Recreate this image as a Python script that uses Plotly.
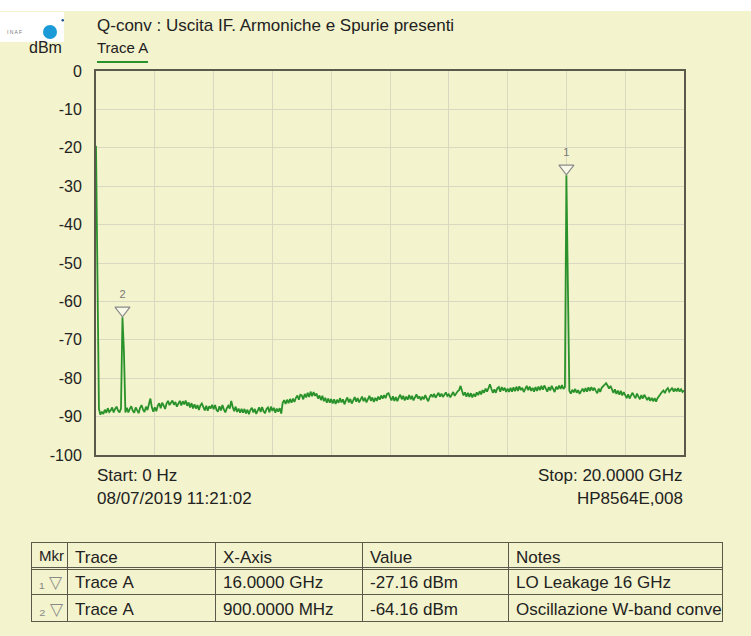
import numpy as np
import plotly.graph_objects as go

# ---------------- data ----------------
start_ghz = 0.0
stop_ghz = 20.0
n_points = 401
sweep_ghz = np.linspace(start_ghz, stop_ghz, n_points)

level_dbm = [
    -19.5, -53.0, -88.0, -89.5, -88.7, -89.3, -88.2, -89.0, -87.8, -88.8, -88.4, -87.6, -88.9, -88.0, -87.4, -88.4, -88.9, -87.9, -64.16, -73.0,
    -88.9, -87.7, -88.9, -88.0, -87.3, -88.5, -89.0, -87.6, -88.4, -89.1, -87.7, -87.0, -88.2, -88.8, -87.4, -88.3, -86.8, -85.3, -87.6, -88.7,
    -87.6, -88.6, -87.2, -86.5, -87.8, -86.4, -87.1, -88.0, -86.6, -85.9, -87.0, -86.3, -85.8, -86.9, -86.2, -87.4, -86.5, -85.9, -87.1, -86.0,
    -86.8, -85.8, -87.2, -86.3, -87.6, -86.5, -87.9, -86.8, -87.9, -87.0, -88.3, -87.1, -86.6, -87.8, -88.4, -87.2, -88.5, -87.3, -87.9, -86.9,
    -88.1, -87.0, -88.3, -88.7, -87.3, -88.4, -87.0, -88.1, -88.9, -87.8, -87.2, -87.9, -85.9, -87.5, -88.6, -87.4, -88.8, -87.9, -89.0, -88.0,
    -89.0, -88.0, -89.2, -88.2, -89.4, -88.3, -87.7, -88.9, -88.0, -89.3, -88.2, -87.6, -88.8, -87.5, -88.6, -89.1, -88.0, -87.6, -88.9, -87.4,
    -88.5, -87.7, -89.0, -87.9, -88.7, -87.8, -89.2, -86.4, -85.7, -86.7, -85.6, -86.5, -85.4, -86.4, -85.3, -86.2, -85.1, -84.5, -85.6, -84.3,
    -84.5, -85.5, -84.1, -85.0, -83.8, -84.9, -83.5, -84.7, -83.6, -84.6, -84.0, -85.3, -84.5, -85.7, -84.6, -86.0, -85.1, -86.4, -85.3, -86.4,
    -85.4, -86.6, -85.5, -86.7, -85.6, -86.4, -85.2, -86.3, -85.5, -86.8, -85.8, -85.0, -86.3, -85.4, -86.6, -85.5, -84.9, -86.1, -85.2, -86.3,
    -85.4, -84.8, -86.0, -85.1, -86.3, -85.2, -84.6, -85.9, -85.0, -86.2, -85.1, -85.9, -84.8, -85.6, -84.5, -85.3, -84.4, -85.2, -84.1, -83.9,
    -85.1, -85.8, -84.7, -85.9, -84.9, -86.0, -85.0, -84.3, -85.5, -84.6, -85.8, -84.8, -85.6, -84.4, -85.5, -84.6, -85.8, -84.9, -84.2, -85.3,
    -84.7, -85.7, -84.8, -85.5, -84.4, -85.3, -86.0, -84.9, -84.2, -84.9, -84.1, -85.1, -84.5, -83.8, -84.8, -84.0, -84.9, -84.2, -83.7, -84.6,
    -84.2, -85.0, -84.3, -83.6, -84.6, -83.9, -83.4, -83.1, -82.0, -83.3, -84.5, -83.7, -84.8, -83.8, -84.9, -83.9, -85.0, -84.1, -84.8, -83.7,
    -84.4, -83.4, -84.2, -83.1, -83.8, -82.7, -83.5, -82.6, -81.6, -82.8, -83.8, -82.9, -83.8, -82.6, -82.3, -83.5, -82.3, -83.2, -82.5, -83.6,
    -82.7, -83.6, -82.5, -83.5, -82.4, -83.4, -82.2, -83.3, -82.1, -83.1, -82.5, -83.6, -82.6, -82.0, -83.1, -82.2, -83.3, -82.5, -83.5, -82.3,
    -83.3, -82.2, -83.1, -82.0, -83.0, -81.9, -82.7, -83.5, -82.3, -83.2, -82.0, -82.9, -83.6, -82.2, -82.9, -81.9, -82.8, -81.8, -82.8, -82.3,
    -27.16, -55.5, -83.3, -84.0, -83.0, -83.7, -82.8, -83.8, -83.1, -84.1, -83.4, -82.7, -83.6, -82.6, -83.5, -82.4, -83.3, -82.3, -83.2, -82.5,
    -83.3, -83.9, -82.7, -83.6, -82.5, -82.1, -81.6, -81.3, -81.9, -82.7, -82.0, -83.1, -83.8, -82.9, -84.1, -83.2, -84.3, -83.3, -84.5, -83.6,
    -84.4, -85.2, -84.2, -85.3, -84.5, -83.8, -84.6, -85.2, -84.0, -84.9, -85.5, -84.4, -85.3, -84.3, -85.1, -85.7, -84.9, -85.9, -85.1, -86.0,
    -85.2, -86.1, -85.2, -84.6, -84.3, -83.6, -83.2, -83.9, -83.0, -82.6, -83.5, -82.8, -82.5, -83.5, -82.7, -83.4, -82.6, -83.5, -82.9, -83.6,
    -83.2,
]

marker_ids = ["1", "2"]
marker_ghz = [16.0, 0.9]
marker_dbm = [-27.16, -64.16]

y_ticks = [0, -10, -20, -30, -40, -50, -60, -70, -80, -90, -100]
y_tick_labels = ["0", "-10", "-20", "-30", "-40", "-50", "-60", "-70", "-80", "-90", "-100"]

table_header = ["Mkr", "Trace", "X-Axis", "Value", "Notes"]
table_mkr = ["₁\u00a0▽", "₂\u00a0▽"]
table_trace = ["Trace A", "Trace A"]
table_xaxis = ["16.0000 GHz", "900.0000 MHz"]
table_value = ["-27.16 dBm", "-64.16 dBm"]
table_notes = ["LO Leakage 16 GHz", "Oscillazione W-band convertita"]

title_text = "Q-conv : Uscita IF. Armoniche e Spurie presenti"
trace_name = "Trace A"
start_text = "Start: 0 Hz"
stop_text = "Stop: 20.0000 GHz"
date_text = "08/07/2019 11:21:02"
instr_text = "HP8564E,008"

# ---------------- style ----------------
W, H = 751, 636
BG = "#f3f3cd"
FONT = "Liberation Sans, Arial, sans-serif"
TXT = "#222222"
GREEN = "#2a922a"
FRAME = "#5a5a4a"
GRID = "#d9d9c2"

# plot area in pixels
px_l, px_r, px_t, px_b = 96, 684, 71, 455
def fx(px):
    return px / W
def fy(py):
    return 1 - py / H

def nowrap(s):
    return s.replace(" ", "\u00a0")

px_per_db = (px_b - px_t) / 100.0
tri_off_db = 7.0 / px_per_db  # lift triangle so its tip sits on the peak

fig = go.Figure()

fig.add_trace(go.Scatter(
    x=sweep_ghz, y=level_dbm, mode="lines",
    line=dict(color=GREEN, width=1.8),
    hoverinfo="skip", showlegend=False,
))

fig.add_trace(go.Scatter(
    x=marker_ghz, y=[v + tri_off_db for v in marker_dbm],
    mode="markers+text", text=marker_ids, textposition="top center",
    textfont=dict(family=FONT, size=11, color="#777777"),
    marker=dict(symbol="triangle-down", size=13, color="rgba(250,250,235,0.9)",
                line=dict(color="#8a8a8a", width=1.2)),
    hoverinfo="skip", showlegend=False,
))

col_px = [36, 148, 147, 146, 214]
cell_cols = [table_mkr, table_trace, table_xaxis, table_value, table_notes]
fig.add_trace(go.Table(
    domain=dict(x=[fx(31), fx(722)], y=[0, fy(542)]),
    columnwidth=col_px,
    header=dict(values=table_header, align="left", height=25,
                fill_color=BG, line=dict(color=FRAME, width=1),
                font=dict(family=FONT, size=[15, 17, 17, 17, 17], color=TXT)),
    cells=dict(values=[[nowrap(v) for v in col] for col in cell_cols],
               align="left", height=27,
               fill_color=BG, line=dict(color=FRAME, width=1),
               font=dict(family=FONT, size=17, color=["#888888", TXT, TXT, TXT, TXT])),
))

shapes = [
    # white strip at top
    dict(type="rect", xref="paper", yref="paper", x0=0, x1=1, y0=fy(11), y1=1,
         fillcolor="white", line=dict(width=0), layer="below"),
    # logo box
    dict(type="rect", xref="paper", yref="paper", x0=0, x1=fx(64), y0=fy(42), y1=fy(12),
         fillcolor="white", line=dict(width=0), layer="below"),
    dict(type="circle", xref="paper", yref="paper", x0=fx(43), x1=fx(57), y0=fy(39), y1=fy(25),
         fillcolor="#1a9ad6", line=dict(width=0)),
    dict(type="circle", xref="paper", yref="paper", x0=fx(61.5), x1=fx(64), y0=fy(21.5), y1=fy(19),
         fillcolor="#1a4f8a", line=dict(width=0)),
    # trace legend underline
    dict(type="line", xref="paper", yref="paper", x0=fx(97), x1=fx(148), y0=fy(62), y1=fy(62),
         line=dict(color=GREEN, width=2)),
    # double line under table header
    dict(type="line", xref="paper", yref="paper", x0=fx(31), x1=fx(722), y0=fy(569.5), y1=fy(569.5),
         line=dict(color=FRAME, width=1)),
]

annotations = [
    dict(text="I N A F", x=fx(5), y=fy(32), xref="paper", yref="paper", xanchor="left", yanchor="middle",
         showarrow=False, font=dict(family=FONT, size=5, color="#777777")),
    dict(text="dBm", x=fx(64), y=fy(47), xref="paper", yref="paper", xanchor="right", yanchor="middle",
         showarrow=False, font=dict(family=FONT, size=16, color=TXT)),
    dict(text=title_text, x=fx(95), y=fy(25), xref="paper", yref="paper", xanchor="left", yanchor="middle",
         showarrow=False, font=dict(family=FONT, size=17, color=TXT)),
    dict(text=trace_name, x=fx(95), y=fy(47), xref="paper", yref="paper", xanchor="left", yanchor="middle",
         showarrow=False, font=dict(family=FONT, size=15, color=TXT)),
    dict(text=start_text, x=fx(95), y=fy(475), xref="paper", yref="paper", xanchor="left", yanchor="middle",
         showarrow=False, font=dict(family=FONT, size=17, color=TXT)),
    dict(text=stop_text, x=fx(685), y=fy(475), xref="paper", yref="paper", xanchor="right", yanchor="middle",
         showarrow=False, font=dict(family=FONT, size=17, color=TXT)),
    dict(text=date_text, x=fx(95), y=fy(498), xref="paper", yref="paper", xanchor="left", yanchor="middle",
         showarrow=False, font=dict(family=FONT, size=17, color=TXT)),
    dict(text=instr_text, x=fx(685), y=fy(498), xref="paper", yref="paper", xanchor="right", yanchor="middle",
         showarrow=False, font=dict(family=FONT, size=17, color=TXT)),
]

fig.update_layout(
    width=W, height=H, autosize=False,
    margin=dict(l=0, r=0, t=0, b=0, pad=0),
    paper_bgcolor=BG, plot_bgcolor=BG,
    font=dict(family=FONT, color=TXT),
    shapes=shapes, annotations=annotations,
    showlegend=False,
    xaxis=dict(domain=[fx(px_l), fx(px_r)], range=[start_ghz, stop_ghz], dtick=2,
               showticklabels=False, showgrid=True, gridcolor=GRID, gridwidth=1,
               zeroline=False, showline=True, linecolor=FRAME, linewidth=2, mirror=True,
               ticks="", automargin=False),
    yaxis=dict(domain=[fy(px_b), fy(px_t)], range=[-100, 0],
               tickmode="array", tickvals=y_ticks, ticktext=y_tick_labels,
               showgrid=True, gridcolor=GRID, gridwidth=1,
               zeroline=False, showline=True, linecolor=FRAME, linewidth=2, mirror=True,
               ticks="", ticklabelstandoff=9, automargin=False,
               tickfont=dict(family=FONT, size=16, color=TXT)),
)

fig.write_html("out.html", config={"displayModeBar": False},
               post_script="document.body.style.margin='0';")
